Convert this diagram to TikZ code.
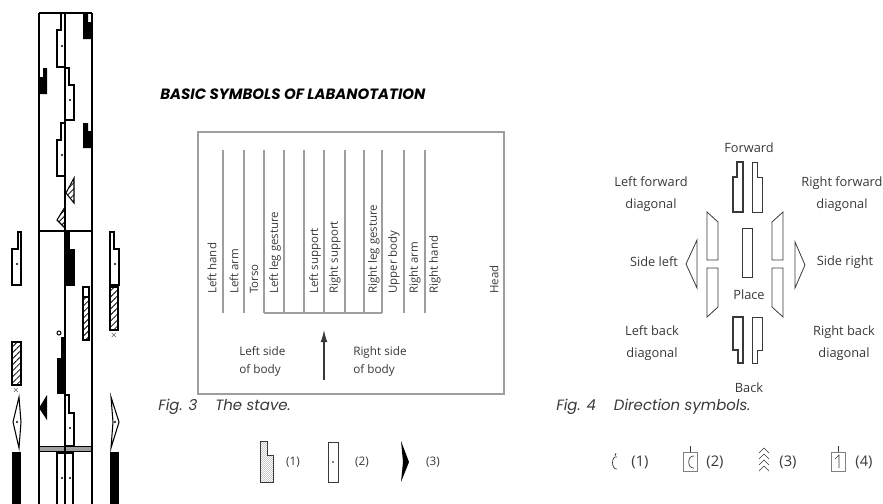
\documentclass[tikz,border=0pt]{standalone}
\usepackage{fontspec}
\setmainfont{Open Sans}
\newfontfamily\titlefont{Poppins}
\usetikzlibrary{patterns.meta,arrows.meta}
\definecolor{stavegray}{gray}{0.62}
\definecolor{inkgray}{gray}{0.22}
\tikzset{
  staveline/.style={line width=1.4pt},
  symline/.style={draw,line width=0.8pt,fill=white},
  blacksym/.style={draw,line width=0.6pt,fill=black},
  hatchsym/.style={draw,line width=0.8pt,pattern={Lines[angle=45,distance=3.2pt,line width=0.6pt]}},
  finehatch/.style={draw=inkgray,line width=0.4pt,pattern color=gray,pattern={Lines[angle=45,distance=0.9pt,line width=0.3pt]}},
  partlabel/.style={font=\fontsize{8.6}{10}\selectfont,text=inkgray,rotate=90,anchor=west,inner sep=0pt},
  dirlabel/.style={font=\fontsize{9.6}{16.5}\selectfont,text=inkgray,align=center,inner sep=0pt},
  dirsym/.style={draw=inkgray,line width=0.6pt},
  caption/.style={font=\titlefont\itshape\fontsize{11.2}{13}\selectfont,text=inkgray,anchor=west,inner sep=0pt},
  numlabel/.style={font=\fontsize{8.8}{9}\selectfont,text=inkgray,inner sep=0pt},
  numlabelbig/.style={font=\fontsize{11}{12}\selectfont,text=inkgray,inner sep=0pt},
}
\begin{document}
\begin{tikzpicture}[x=0.75pt,y=-0.75pt]
  \useasboundingbox (0,0) rectangle (883,504);
  % score on the left
  \begin{scope}
    \fill[stavegray] (39,446) rectangle (92,452);
    \draw[line width=0.8pt] (39,446.5) -- (92,446.5) (39,451.5) -- (92,451.5);
    \draw[staveline] (39,13) -- (92,13) (39,231) -- (92,231);
    \draw[staveline] (39,13) -- (39,504) (65,13) -- (65,504) (92,13) -- (92,504);
    % supports
    \draw[symline] (61,13) -- (65,13) -- (65,67) -- (57,67) -- (57,30) -- (61,30) -- cycle;
    \fill (62,46) circle (0.9pt);
    \draw[symline] (65,68) -- (69,68) -- (69,85) -- (74,85) -- (74,120) -- (65,120) -- cycle;
    \fill (70,100) circle (0.9pt);
    \draw[symline] (61,123) -- (65,123) -- (65,176) -- (57,176) -- (57,140) -- (61,140) -- cycle;
    \fill (62,155) circle (0.9pt);
    \draw[hatchsym] (74,178) -- (74,203) -- (66,193) -- cycle;
    \draw[hatchsym] (65,207) -- (65,228) -- (57,220) -- cycle;
    \draw[blacksym] (65,231) -- (69,231) -- (69,249) -- (74,249) -- (74,285) -- (65,285) -- cycle;
    \draw[line width=0.7pt] (59,333) circle (2);
    \draw[blacksym] (61,337) -- (65,337) -- (65,393) -- (57,393) -- (57,358) -- (61,358) -- cycle;
    \draw[symline] (65,395) -- (69,395) -- (69,413) -- (74,413) -- (74,446) -- (65,446) -- cycle;
    \fill (70,428) circle (0.9pt);
    \draw[symline] (57,453) rectangle (65,505);
    \draw[symline] (65,453) rectangle (73,505);
    \fill (62,478) circle (0.9pt) (70,478) circle (0.9pt);
    % arms
    \fill (83,13) -- (88,13) -- (88,22) -- (92,22) -- (92,39) -- (83,39) -- cycle;
    \fill (43,68) -- (47,68) -- (47,94) -- (39,94) -- (39,77) -- (43,77) -- cycle;
    \fill (83,123) -- (88,123) -- (88,131) -- (92,131) -- (92,148) -- (83,148) -- cycle;
    \draw[line width=0.8pt] (83,287) rectangle (89,297);
    \draw[hatchsym] (83,297) rectangle (89,340);
    \fill (47,395) -- (47,420) -- (39,408) -- cycle;
    % outside the stave
    \draw[symline] (18,232) -- (21,232) -- (21,285) -- (12,285) -- (12,249) -- (18,249) -- cycle;
    \fill (17,264) circle (0.9pt);
    \draw[symline] (110,232) -- (114,232) -- (114,249) -- (119,249) -- (119,285) -- (110,285) -- cycle;
    \fill (115,264) circle (0.9pt);
    \draw[hatchsym] (110,287) rectangle (118,330);
    \path (114,335) node [font=\fontsize{6}{6}\selectfont,inner sep=0pt] (crossright) {$\times$};
    \draw[hatchsym] (12,342) rectangle (21,385);
    \path (16,390) node [font=\fontsize{6}{6}\selectfont,inner sep=0pt] (crossleft) {$\times$};
    \draw[symline] (19,397) -- (21,422) -- (19,448) -- (13,422) -- cycle;
    \fill (17,422) circle (0.9pt);
    \draw[symline] (111,397) -- (119,422) -- (111,448) -- (113,422) -- cycle;
    \fill (115,422) circle (0.9pt);
    \fill (12,452) rectangle (21,505);
    \fill (110,452) rectangle (119,505);
  \end{scope}

  \path (160,94) node [anchor=west,inner sep=0pt,font=\titlefont\bfseries\itshape\fontsize{11.2}{13}\selectfont] (title) {BASIC SYMBOLS OF LABANOTATION};

  % the stave
  \draw[stavegray,line width=0.8pt] (198,132) rectangle (504,394);
  \foreach \x in {223,244,264,284,304,324,345,364,382,404,425}
    \draw[stavegray,line width=0.8pt] (\x,150) -- (\x,313);
  \draw[stavegray,line width=0.8pt] (264,313) -- (382,313);
  \foreach \x/\name/\txt in {212/lhand/Left hand,234/larm/Left arm,254/torso/Torso,275/lleg/Left leg gesture,315/lsupp/Left support,335/rsupp/Right support,374/rleg/Right leg gesture,394/upper/Upper body,415/rarm/Right arm,435/rhand/Right hand,494/head/Head}
    \path (\x,294) node [partlabel] (\name) {\txt};
  \coordinate (arrowfoot) at (324,380);
  \coordinate (arrowtip) at (324,330);
  \draw[inkgray,line width=0.8pt,-{Latex[length=9pt,width=5pt]}] (arrowfoot) -- (arrowtip);
  \path (239,352) node [anchor=west,align=left,inner sep=0pt,text=inkgray,font=\fontsize{8.8}{13.5}\selectfont,yshift=-6.75pt] (leftside) {Left side\\of body};
  \path (353,352) node [anchor=west,align=left,inner sep=0pt,text=inkgray,font=\fontsize{8.8}{13.5}\selectfont,yshift=-6.75pt] (rightside) {Right side\\of body};
  \path (158,407) node [caption] (fig3) {Fig. 3\hspace{1.2em}The stave.};

  % direction symbols
  \begin{scope}
    \path (749,148) node [dirlabel] (forward) {Forward};
    \path (651,194) node [dirlabel] (lfd) {Left forward\\diagonal};
    \path (842,194) node [dirlabel] (rfd) {Right forward\\diagonal};
    \path (654,262) node [dirlabel] (sideleft) {Side left};
    \path (845,262) node [dirlabel] (sideright) {Side right};
    \path (749,295) node [dirlabel] (place) {Place};
    \path (652,343) node [dirlabel] (lbd) {Left back\\diagonal};
    \path (844,343) node [dirlabel] (rbd) {Right back\\diagonal};
    \path (749,388) node [dirlabel] (back) {Back};
    \draw[dirsym,line width=0.9pt] (737,162) -- (743,162) -- (743,212) -- (733,212) -- (733,177) -- (737,177) -- cycle;
    \draw[dirsym] (752,162) -- (757,162) -- (757,177) -- (762,177) -- (762,212) -- (752,212) -- cycle;
    \draw[dirsym] (742,228) rectangle (752,277);
    \draw[dirsym,line width=0.9pt] (733,317) -- (743,317) -- (743,363) -- (738,363) -- (738,350) -- (733,350) -- cycle;
    \draw[dirsym] (752,317) -- (762,317) -- (762,350) -- (757,350) -- (757,363) -- (752,363) -- cycle;
    \draw[dirsym] (707,212) -- (718,222) -- (718,260) -- (707,260) -- cycle;
    \draw[dirsym] (707,268) -- (718,268) -- (718,307) -- (707,317) -- cycle;
    \draw[dirsym] (772,222) -- (783,212) -- (783,260) -- (772,260) -- cycle;
    \draw[dirsym] (772,268) -- (783,268) -- (783,317) -- (772,307) -- cycle;
    \draw[dirsym] (697,240) -- (697,288) -- (686,264) -- cycle;
    \draw[dirsym] (795,242) -- (795,288) -- (805,265) -- cycle;
  \end{scope}
  \path (556,407) node [caption] (fig4) {Fig. 4\hspace{1.2em}Direction symbols.};

  % small symbols, bottom row
  \draw[finehatch] (260,441) -- (267,441) -- (267,455) -- (273,455) -- (273,482) -- (260,482) -- cycle;
  \path (293,462) node [numlabel] (one) {(1)};
  \draw[inkgray,line width=0.5pt] (328,442) rectangle (338,482);
  \fill (333,462) circle (0.6pt);
  \path (362,462) node [numlabel] (two) {(2)};
  \fill (401,441) -- (409,462) -- (401,482) -- (403,462) -- cycle;
  \path (433,462) node [numlabel] (three) {(3)};

  \begin{scope}[inkgray,line width=0.5pt]
    \draw (617,457) .. controls (611,455) and (611,470) .. (617,469);
    \draw (615,456) -- (616,453);
    \path (640,462) node [numlabelbig] (turnone) {(1)};
    \draw[gray] (683,452) rectangle (697,471);
    \draw (690,452) -- (690,446);
    \draw (694,456) .. controls (687,455) and (687,469) .. (694,468);
    \path (715,462) node [numlabelbig] (turntwo) {(2)};
    \foreach \y in {448,454,460,466}
      \draw (759,\y+5) -- (764,\y) -- (769,\y+5);
    \path (788,462) node [numlabelbig] (turnthree) {(3)};
    \draw[gray] (831,452) rectangle (845,471);
    \draw (838,452) -- (838,446);
    \draw (835,459) -- (839,455) -- (839,468);
    \path (864,462) node [numlabelbig] (turnfour) {(4)};
  \end{scope}
\end{tikzpicture}
\end{document}
